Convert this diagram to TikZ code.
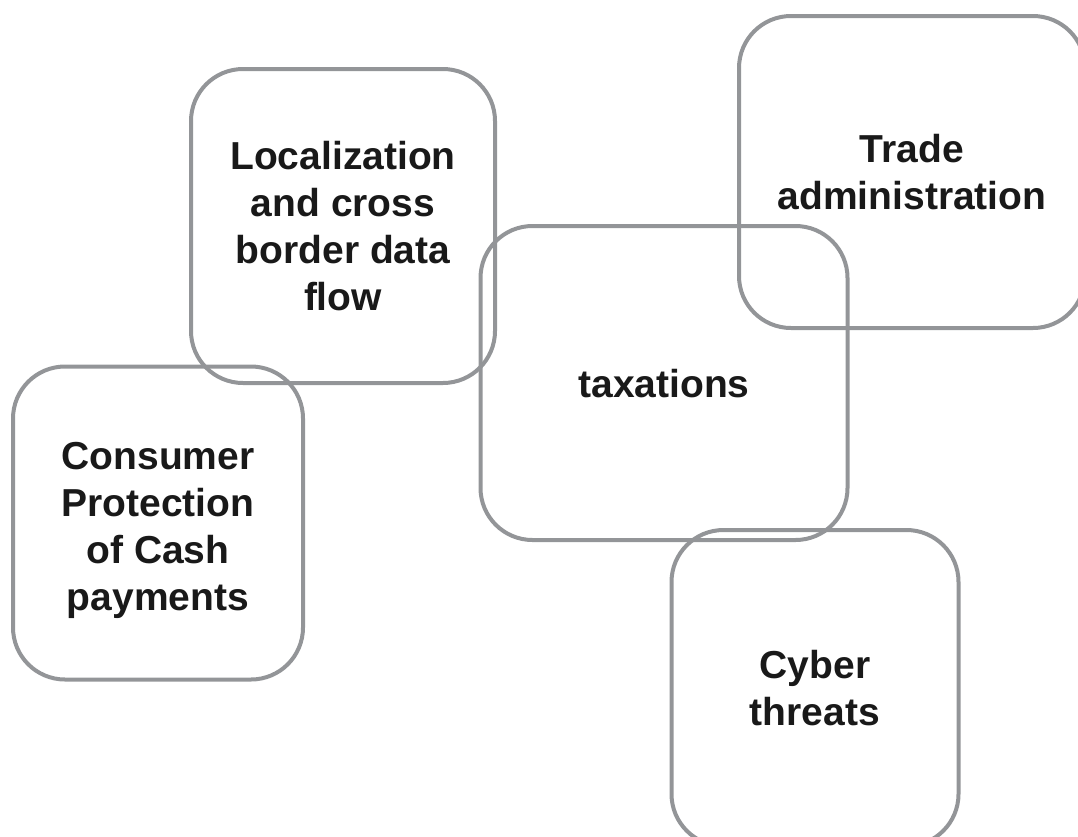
\documentclass[tikz,border=0pt]{standalone}
\usepackage{fontspec}
\setmainfont{Liberation Sans}
\begin{document}
\begin{tikzpicture}[x=1pt,y=-1pt,
  topicbox/.style={draw=boxgray, line width=4pt, rounded corners=52pt,
    rectangle, inner sep=0pt, align=center,
    font=\fontsize{39}{47}\selectfont\bfseries, text=black!90}]
\definecolor{boxgray}{RGB}{147,149,152}
\useasboundingbox (0,0) rectangle (1078,836);
\clip (0,0) rectangle (1078,836);
% topic boxes: centre, width and height in pixels of the page
\node[topicbox, minimum width=304pt, minimum height=314pt] (loc) at (343,226)
  {Localization\\and cross\\border data\\flow};
\node[topicbox, minimum width=346pt, minimum height=312pt] (trade) at (912,172)
  {Trade\\administration};
\node[topicbox, minimum width=367pt, minimum height=314pt,
      text height=36pt, text depth=8pt] (tax) at (664,383)
  {taxations};
\node[topicbox, minimum width=290pt, minimum height=313pt] (cons) at (158,523)
  {\\[-5pt]Consumer\\Protection\\of Cash\\payments};
\node[topicbox, minimum width=287pt, minimum height=316pt] (cyber) at (815,688)
  {Cyber\\threats};
\end{tikzpicture}
\end{document}
